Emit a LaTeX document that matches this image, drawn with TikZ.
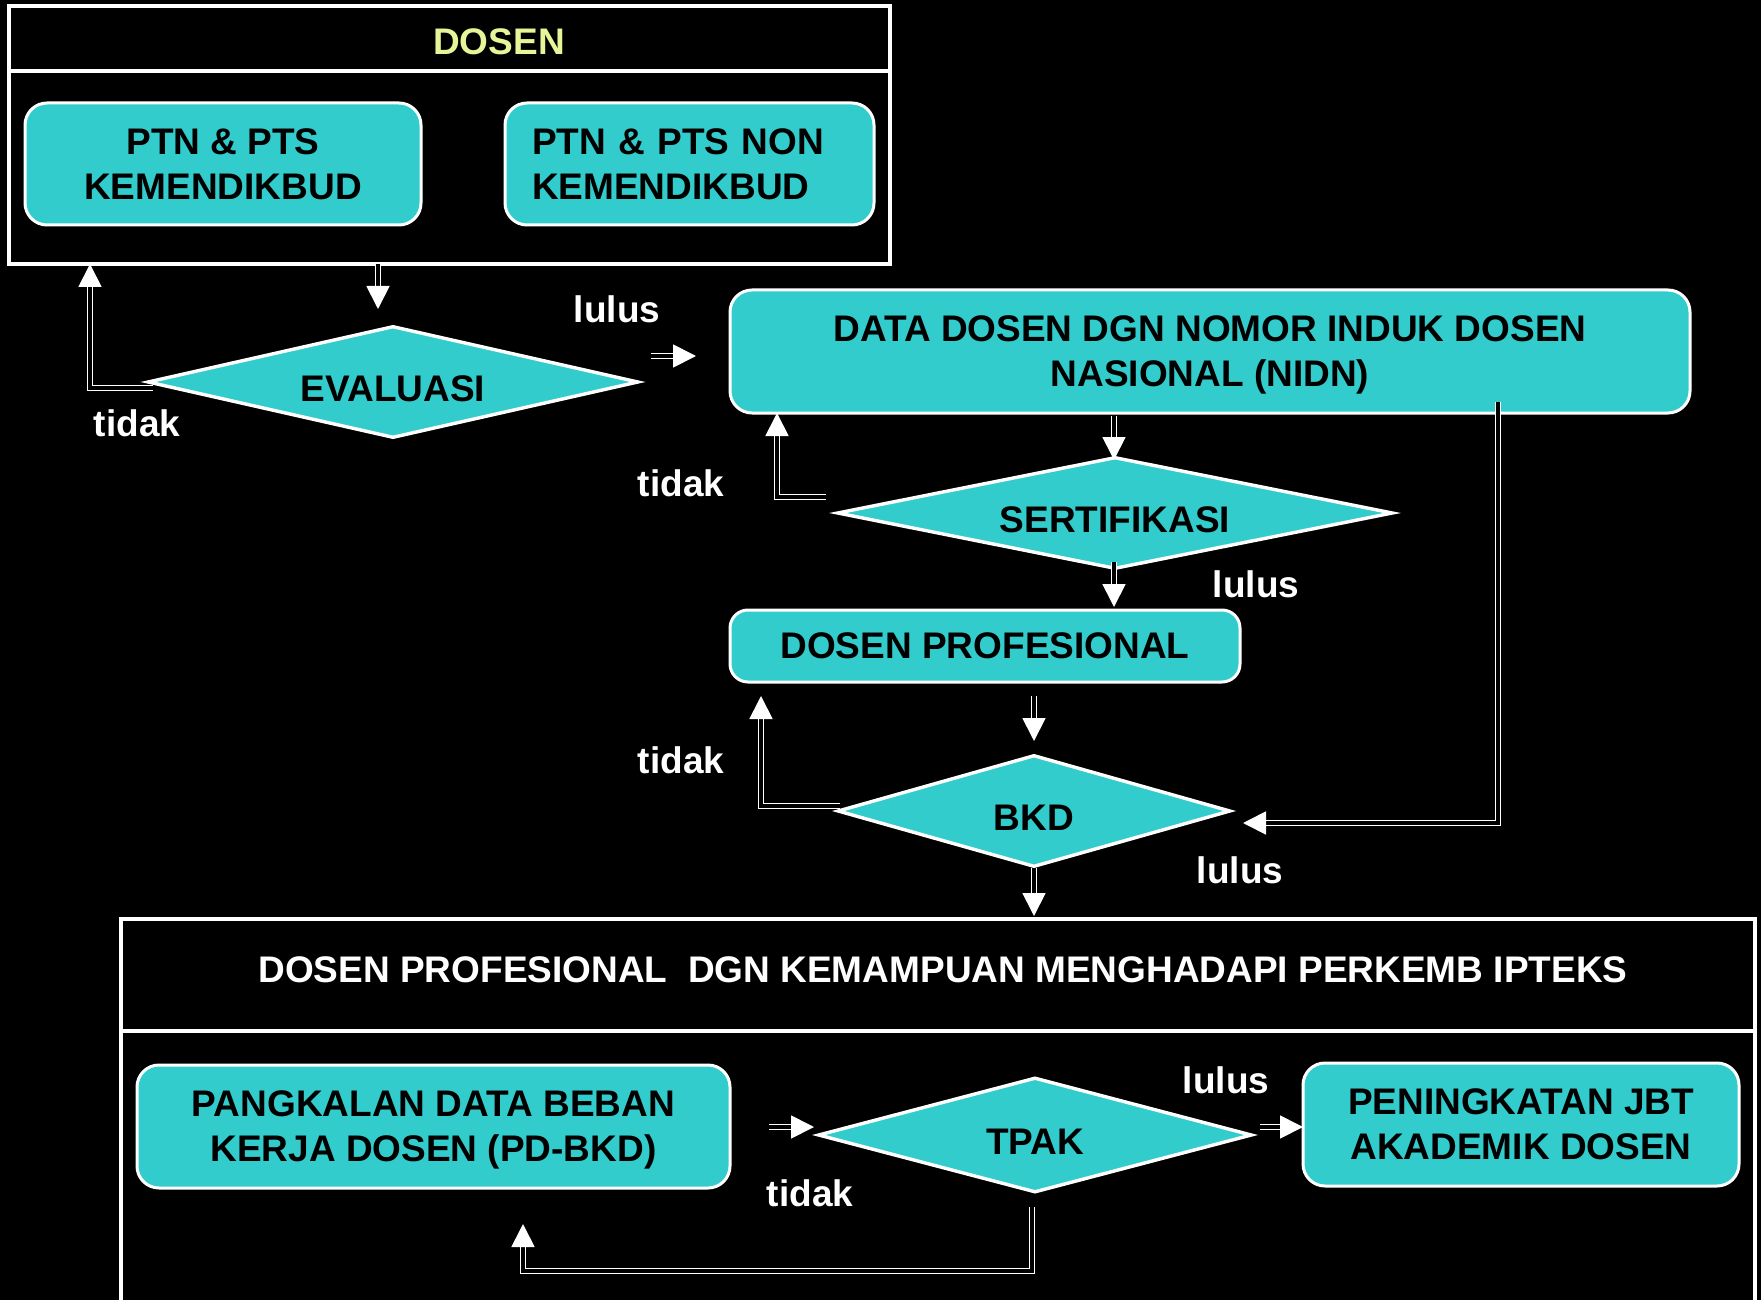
\documentclass[tikz,border=0pt]{standalone}
\usepackage{fontspec}
\setmainfont{Liberation Sans}
\usetikzlibrary{shapes.geometric,arrows.meta}
\definecolor{tealbox}{HTML}{33CCCC}
\definecolor{titleyellow}{HTML}{E6F598}
\newcommand{\bigbf}{\bfseries\fontsize{18.5}{22.5}\selectfont}
\begin{document}
\begin{tikzpicture}[x=0.5pt,y=-0.5pt,
  box/.style={draw=white,line width=1.5pt,fill=tealbox,rounded corners=11pt,
    font=\bigbf,align=center,text=black,inner sep=0pt},
  nodepth/.style={text depth=0pt},
  dia/.style={diamond,draw=white,line width=1.7pt,fill=tealbox,aspect=4,
    inner sep=0pt,font=\bigbf,text=black,text height=19pt,text depth=0pt},
  frame/.style={draw=white,line width=1.6pt},
  lbl/.style={text=white,font=\bigbf,inner sep=0pt},
  dln/.style={draw=white,double=black,line width=0.9pt,double distance=1.6pt},
  dar/.style={dln,-{Triangle[length=11.5pt,width=11.5pt]}}]
\fill[black] (0,0) rectangle (1761,1300);
\useasboundingbox (0,0) rectangle (1761,1300);

% top frame
\node[frame,minimum width=440.5pt,minimum height=129pt,inner sep=0pt] (dosen) at (449.5,135) {};
\draw[frame] (dosen.west |- 0,71) -- (dosen.east |- 0,71);
\node[text=titleyellow,font=\bigbf] (dosentitle) at (499,42) {DOSEN};
\node[box,minimum width=198pt,minimum height=61pt] (ptn1) at (223,164) {PTN \& PTS\\KEMENDIKBUD};
\node[box,minimum width=184.5pt,minimum height=61pt,align=left,text width=157.5pt] (ptn2) at (689.5,164) {PTN \& PTS NON\\KEMENDIKBUD};

% middle
\node[dia,minimum width=245.5pt,minimum height=56pt] (eval) at (393,382) {EVALUASI};
\node[box,nodepth,minimum width=480pt,minimum height=61.5pt] (nidn) at (1210,351.5) {DATA DOSEN DGN NOMOR INDUK DOSEN\\NASIONAL (NIDN)};
\node[dia,minimum width=278pt,minimum height=56pt] (sert) at (1115,513) {SERTIFIKASI};
\node[box,minimum width=255pt,minimum height=36pt,rounded corners=9pt] (dprof) at (985,646) {DOSEN PROFESIONAL};
\node[dia,minimum width=196.5pt,minimum height=56pt] (bkd) at (1034,811) {BKD};

% bottom frame
\coordinate (bl) at (121,1300);
\coordinate (br) at (1755,1300);
\draw[frame] (bl) -- (121,919) -- (1755,919) -- (br);
\draw[frame] (121,1031) -- (1755,1031);
\node[lbl] (bottomtitle) at (943,970) {DOSEN PROFESIONAL\ \ DGN KEMAMPUAN MENGHADAPI PERKEMB IPTEKS};
\node[box,nodepth,minimum width=296.5pt,minimum height=61.5pt] (pdbkd) at (433.5,1126.5) {PANGKALAN DATA BEBAN\\KERJA DOSEN (PD-BKD)};
\node[dia,minimum width=217pt,minimum height=57.5pt] (tpak) at (1035,1135) {TPAK};
\node[box,minimum width=218pt,minimum height=61.5pt] (jbt) at (1521,1124.5) {PENINGKATAN JBT\\AKADEMIK DOSEN};

% labels
\node[lbl] (t1) at (137,423) {tidak};
\node[lbl] (l1) at (617,309) {lulus};
\node[lbl] (t2) at (681,483) {tidak};
\node[lbl] (l2) at (1256,584) {lulus};
\node[lbl] (t3) at (681,760) {tidak};
\node[lbl] (l3) at (1240,870) {lulus};
\node[lbl] (l4) at (1226,1080) {lulus};
\node[lbl] (t4) at (810,1193) {tidak};

% connector end points
\coordinate (a1s) at (378,264);   \coordinate (a1e) at (378,309);
\coordinate (a2s) at (153,388);   \coordinate (a2e) at (90,264);
\coordinate (a3s) at (651,356);   \coordinate (a3e) at (696,356);
\coordinate (a4s) at (1114,416);  \coordinate (a4e) at (1114,460);
\coordinate (a5s) at (826,497);   \coordinate (a5e) at (777,413);
\coordinate (a6s) at (1114,562);  \coordinate (a6e) at (1114,607);
\coordinate (a7s) at (1034,696);  \coordinate (a7e) at (1034,741);
\coordinate (a8s) at (840,806);   \coordinate (a8e) at (761,696);
\coordinate (a9s) at (1498,402);  \coordinate (a9e) at (1243,823);
\coordinate (a10s) at (1034,868); \coordinate (a10e) at (1034,916);
\coordinate (a11s) at (769,1127); \coordinate (a11e) at (814,1127);
\coordinate (a12s) at (1260,1127);\coordinate (a12e) at (1303,1127);
\coordinate (a13s) at (1032,1207);\coordinate (a13e) at (523,1224);

\draw[dar] (a1s) -- (a1e);
\draw[dar] (a2s) -| (a2e);
\draw[dar] (a3s) -- (a3e);
\draw[dar] (a4s) -- (a4e);
\draw[dar] (a5s) -| (a5e);
\draw[dar] (a6s) -- (a6e);
\draw[dar] (a7s) -- (a7e);
\draw[dar] (a8s) -| (a8e);
\draw[dar] (a9s) |- (a9e);
\draw[dar] (a10s) -- (a10e);
\draw[dar] (a11s) -- (a11e);
\draw[dar] (a12s) -- (a12e);
\draw[dar] (a13s) -- (1032,1271) -| (a13e);
\end{tikzpicture}
\end{document}
